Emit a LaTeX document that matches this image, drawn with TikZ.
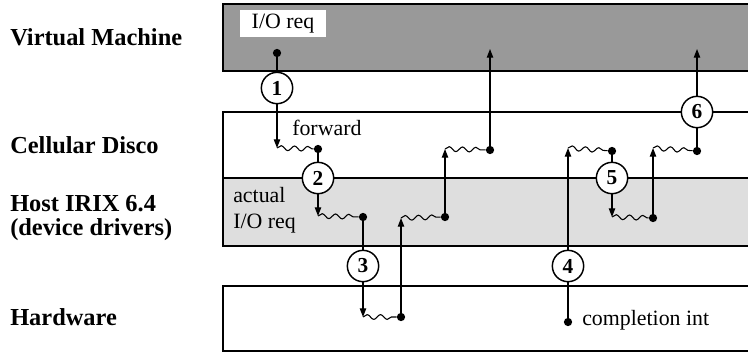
\documentclass[tikz,border=0pt]{standalone}
\usepackage{fontspec}
\setmainfont{Liberation Serif}
\usetikzlibrary{arrows.meta,decorations.pathmorphing}
\tikzset{
  layer/.style = {line width=1.9pt, draw=black},
  lbl/.style   = {anchor=base west, inner sep=0pt, align=left,
                  font=\fontsize{18.3}{17.3}\selectfont\bfseries},
  txt/.style   = {anchor=base west, inner sep=0pt, align=left,
                  font=\fontsize{16.4}{18.8}\selectfont},
  num/.style   = {circle, draw=black, fill=white, line width=1.1pt, minimum size=23.5pt,
                  inner sep=0pt, font=\fontsize{16}{16}\selectfont\bfseries},
  blob/.style  = {circle, fill=black, inner sep=0pt, minimum size=6.2pt},
  ln/.style    = {line width=0.8pt, draw=black},
  ar/.style    = {ln, -{Triangle[length=6.5pt,width=4.8pt]}},
  wig/.style   = {ln, decorate, decoration={snake, amplitude=1.8pt, segment length=10pt}}
}
\begin{document}
\begin{tikzpicture}[x=0.75pt, y=-0.75pt]
  \useasboundingbox (0,0) rectangle (748,354);
  % layers
  \fill[black!40] (223,4) rectangle (748,71);
  \draw[layer] (748,4) -- (223,4) -- (223,71) -- (748,71);
  \fill[black!13] (223,178) rectangle (748,246);
  \draw[layer] (748,112) -- (223,112) -- (223,246) -- (748,246);
  \draw[layer] (223,178) -- (748,178);
  \draw[layer] (748,286) -- (223,286) -- (223,351) -- (748,351);

  \node[lbl] (vm)   at (10,45)  {Virtual Machine};
  \node[lbl] (cd)   at (10,153) {Cellular Disco};
  \node[lbl] (host) at (10,235) {Host IRIX 6.4\\(device drivers)};
  \node[lbl] (hw)   at (10,325) {Hardware};

  \node[fill=white, inner sep=0pt, minimum width=64.5pt, minimum height=20pt,
        font=\fontsize{16.4}{18}\selectfont] (req) at (283,23.5) {I/O req};
  \node[txt] (fwd)  at (292,135) {forward};
  \node[txt] (act)  at (233,228) {actual\\I/O req};
  \node[txt] (cmp)  at (582,325) {completion int};

  % circled steps
  \node[num] (c1) at (277,88)  {1};
  \node[num] (c2) at (318,178) {2};
  \node[num] (c3) at (363,266) {3};
  \node[num] (c4) at (568,266) {4};
  \node[num] (c5) at (612,178) {5};
  \node[num] (c6) at (697,112) {6};

  % dots and arrow ends
  \node[blob] (d1)  at (277,53)  {};
  \node[blob] (d2)  at (318,149) {};
  \node[blob] (d3)  at (363,217) {};
  \node[blob] (d4)  at (401,317) {};
  \node[blob] (d5)  at (445,217) {};
  \node[blob] (d6)  at (490,150) {};
  \node[blob] (d7)  at (568,322) {};
  \node[blob] (d8)  at (612,151) {};
  \node[blob] (d9)  at (653,218) {};
  \node[blob] (d10) at (697,151) {};
  \coordinate (t1)  at (277,148);
  \coordinate (t2)  at (318,216);
  \coordinate (t3)  at (363,317);
  \coordinate (t4)  at (401,218);
  \coordinate (t5)  at (445,149);
  \coordinate (t6)  at (490,49);
  \coordinate (t7)  at (568,148);
  \coordinate (t8)  at (612,217);
  \coordinate (t9)  at (653,148);
  \coordinate (t10) at (697,49);

  \draw[ln] (d1) -- (c1); \draw[ar] (c1) -- (t1); \draw[wig] (t1) -- (d2);
  \draw[ln] (d2) -- (c2); \draw[ar] (c2) -- (t2); \draw[wig] (t2) -- (d3);
  \draw[ln] (d3) -- (c3); \draw[ar] (c3) -- (t3); \draw[wig] (t3) -- (d4);
  \draw[ar] (d4) -- (t4); \draw[wig] (t4) -- (d5);
  \draw[ar] (d5) -- (t5); \draw[wig] (t5) -- (d6);
  \draw[ar] (d6) -- (t6);
  \draw[ln] (d7) -- (c4); \draw[ar] (c4) -- (t7); \draw[wig] (t7) -- (d8);
  \draw[ln] (d8) -- (c5); \draw[ar] (c5) -- (t8); \draw[wig] (t8) -- (d9);
  \draw[ar] (d9) -- (t9); \draw[wig] (t9) -- (d10);
  \draw[ln] (d10) -- (c6); \draw[ar] (c6) -- (t10);
\end{tikzpicture}
\end{document}
